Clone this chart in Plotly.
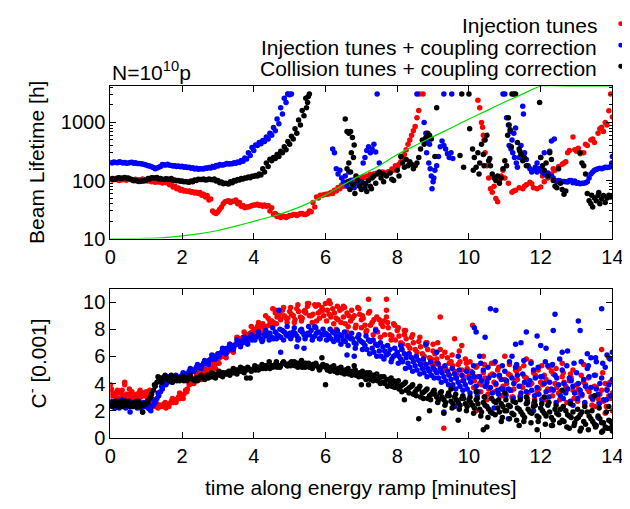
import plotly.graph_objects as go

# ---------------- time stamps (minutes) ----------------
t_a = [round(i * 0.1, 2) for i in range(141)]          # 0.0 .. 14.0
t_b = [round(0.05 + i * 0.1, 2) for i in range(140)]   # 0.05 .. 13.95
t_c = [round(0.03 + i * 0.1, 2) for i in range(140)]   # 0.03 .. 13.93

# ---------------- TOP PANEL: beam lifetime [h] ----------------
# Injection tunes (red), continuous part 0 .. 8.6 min
life_red_a = [105,108,103,106,104,107,102,105,103,106,100,
              100,97,96,95,94,93,90,80,74,70,
              67,66,64,63,62,58,55,48,28,29,
              35,43,45,44,46,42,37,35,36,38,
              39,38,38,37,34,27,25,24,23,25,
              26,25,27,26,27,29,35,50,55,58,
              59,60,66,72,80,87,95,99,108,105,
              112,118,125,132,137,140,135,138,150,170,
              210,280,420,600,850,1600]
life_red_b = [102,104,100,103,101,104,99,102,100,98,
              98,95,93,94,91,92,85,77,72,68,
              66,65,63,61,60,56,52,46,30,27,
              32,40,44,42,44,40,36,34,35,37,
              38,37,36,36,30,26,24,23,24,24,
              25,26,26,27,26,30,42,52,56,57,
              58,62,68,76,84,90,97,102,110,112,
              115,120,128,130,135,138,132,142,158,180,
              190,240,340,500,720,1200]
# Injection tunes (red), scattered part
life_red_sx = [8.62,8.72,10.25,10.3,10.35,10.38,10.4,10.42,10.45,10.5,10.55,10.6,10.65,10.7,10.75,10.8,
               10.85,10.9,10.95,11.0,11.1,11.2,11.3,11.4,11.5,11.6,11.7,11.8,11.9,12.0,12.1,12.2,
               12.3,12.4,12.5,12.6,12.7,12.75,12.8,12.9,12.95,13.0,13.1,13.2,13.3,13.4,13.5,13.6,
               13.7,13.75,13.8,13.85,13.9,13.95,14.0,11.25,11.55,11.75,12.05,12.35,12.65,13.05,13.25,13.45,13.65]
life_red_sy = [3100,3100,2400,1800,1000,830,600,500,300,180,110,72,63,80,49,43,
               100,120,150,110,90,63,68,75,72,85,93,75,72,77,95,110,
               130,150,175,190,210,300,330,560,340,320,290,300,400,500,450,650,
               830,700,1000,900,1590,3100,1240,66,80,88,120,160,200,360,420,520,780]

# Injection tunes + coupling correction (blue), continuous part 0 .. 5 min
life_blue_a = [205,208,203,206,204,200,207,202,196,192,185,
               178,168,165,175,185,190,182,180,178,176,
               172,170,166,162,160,158,162,165,170,178,
               185,190,192,195,198,205,215,235,270,330,
               400,430,470,520,600,720,950,1400,2200,3000]
life_blue_b = [200,204,210,201,198,205,199,197,194,188,
               180,172,160,170,188,186,184,178,175,172,
               170,168,163,158,156,160,164,168,174,182,
               188,186,196,194,202,208,222,245,300,370,
               410,450,490,560,650,820,1150,1800,2600,3100]
life_blue_sx = [4.95,5.02,5.05,6.2,6.25,6.3,6.35,6.4,6.45,6.5,6.55,6.6,6.65,6.7,6.75,6.8,6.85,6.9,6.95,7.0,
                7.05,7.1,7.15,7.2,7.25,7.3,7.35,7.4,7.44,7.5,8.55,8.75,8.8,8.85,8.9,8.82,8.88,8.92,8.95,
                9.0,8.97,9.02,9.05,9.1,9.15,9.2,9.25,9.3,9.35,9.4,9.45,9.5,9.55,9.3,9.52,10.95,11.0,
                11.05,11.1,11.15,11.2,11.25,11.3,11.12,11.17,11.22,11.27,11.32,11.35,11.4,11.45,11.5,11.52,
                11.55,11.6,11.65,11.7,11.75,11.8,11.85,11.9,11.95,12.0,12.05,12.1,12.15,12.2,12.25,12.3,
                12.35,12.4,12.45,12.5,12.6,12.7,12.8,12.9,13.0,13.1,13.2,13.3,13.4,13.5,13.6,13.7,13.8,
                13.9,14.0,13.98,12.0,12.1,12.3,12.38,11.9,12.55,12.65,12.75,12.85,12.95,13.05,13.15,
                13.25,13.35,13.45,13.55,13.65,13.75,13.85,13.95]
life_blue_sy = [3100,3050,3100,350,300,160,130,150,110,95,120,80,140,100,85,75,90,100,88,95,
                200,250,330,380,300,350,420,310,3100,200,3100,1000,650,480,420,300,200,160,120,
                95,72,110,150,180,260,380,480,400,350,290,250,300,240,3100,3100,3100,3100,
                1200,900,700,500,650,800,400,350,300,250,200,170,250,400,1900,1400,
                300,230,180,160,140,150,170,140,160,150,140,130,130,135,320,120,
                110,100,95,100,95,95,100,92,90,88,90,95,130,150,160,160,170,
                170,260,200,250,300,480,520,200,98,96,94,100,98,92,90,
                92,110,140,155,162,165,168,172,175]

# Collision tunes + coupling correction (black), continuous part 0 .. 5.5 min
life_black_a = [106,104,110,108,113,110,104,100,96,98,102,
                106,110,113,108,104,106,108,102,100,98,
                96,93,95,100,104,106,103,104,106,100,
                94,90,87,92,98,102,106,110,112,118,
                120,125,140,175,220,240,260,300,340,420,
                520,650,900,1300,2200]
life_black_b = [108,106,112,110,109,106,100,98,97,100,
                108,112,110,106,105,107,104,101,99,97,
                95,94,98,102,105,104,102,106,103,98,
                92,88,89,95,100,104,108,111,115,119,
                122,130,160,200,232,250,280,320,380,470,
                580,780,1100,1600,2600]
life_black_sx = [5.47,5.52,5.55,6.55,6.6,6.65,6.7,6.75,6.8,6.72,6.78,6.65,6.6,6.7,6.85,6.9,6.95,7.0,7.05,7.1,
                 7.15,7.2,7.25,7.3,7.35,7.4,7.45,7.5,7.55,7.6,7.7,7.8,7.9,8.0,8.05,8.1,8.15,8.2,8.25,
                 8.3,8.35,8.4,8.45,8.5,8.55,8.6,8.65,8.7,8.75,8.8,8.85,8.9,8.95,9.1,9.75,9.8,9.85,
                 10.0,10.02,10.1,10.15,10.2,10.25,10.3,10.35,10.4,10.45,10.5,10.55,10.6,10.65,10.7,10.75,
                 10.8,10.85,10.9,10.95,11.0,11.05,11.1,11.12,11.15,11.2,11.25,11.3,11.35,11.4,11.45,11.5,
                 11.55,11.6,11.97,12.0,12.05,12.1,12.15,12.2,12.25,12.3,12.35,12.4,12.45,12.5,12.55,12.6,
                 13.15,13.2,13.25,13.3,13.35,13.4,13.45,13.5,13.55,13.6,13.65,13.7,13.75,13.8,13.85,13.9,
                 13.95,14.0,13.42,13.62,6.62,6.68,6.76,6.82,7.12,7.28,7.62,7.85,9.05,10.12,10.28,10.42,
                 10.58,11.08,11.42,12.65,12.7,13.1,11.18]
life_black_sy = [1800,2800,3100,1150,700,650,700,550,410,300,250,200,160,140,120,100,80,70,90,75,
                 65,100,80,110,120,90,130,140,110,130,120,135,100,150,120,260,200,170,230,
                 180,210,190,160,180,200,250,350,500,420,550,650,600,520,1800,270,3100,170,
                 3100,780,350,250,170,300,200,420,280,500,600,220,180,130,110,100,
                 120,90,110,160,220,180,1200,900,750,3100,3100,3100,450,350,280,220,
                 250,180,2200,250,180,150,200,120,300,230,100,80,75,160,90,70,
                 200,180,130,60,45,40,35,50,45,55,40,48,55,42,50,56,
                 52,55,56,62,95,70,85,60,88,72,95,105,260,150,130,180,
                 240,600,320,58,66,300,380]

# Green reference curve
curve_t = [0,0.5,1,1.5,2,2.5,3,3.5,4,4.5,5,5.5,6,6.5,7,7.5,8,8.5,9,9.5,10,10.5,11,11.5,12,13,14]
curve_life = [10,10.0,10.1,10.4,11.1,12.2,13.8,16.4,19.8,24,30,40,56,85,125,180,280,400,570,800,
              1150,1600,2250,3100,4200,4200,4200]

# ---------------- BOTTOM PANEL: C- [0.001] ----------------
c_red_a = [3.4,3.2,3.5,3.3,3.9,3.2,3.4,3.1,3.3,3.2,3.4,
           3.5,2.8,2.5,2.4,2.5,2.4,2.7,2.8,3.0,3.1,
           3.5,3.9,4.3,4.6,4.7,4.9,5.0,5.2,5.4,5.8,
           6.0,6.3,6.4,6.8,6.9,7.3,7.4,7.6,7.7,8.0,
           8.2,8.3,8.1,8.8,8.6,9.2,8.9,9.4,8.8,9.3,
           9.0,9.5,8.9,9.3,9.7,9.0,9.8,9.2,9.6,9.9,
           9.1,9.5,8.8,9.4,8.9,9.2,8.6,9.0,9.6,8.7,
           8.3,9.2,8.5,8.0,8.7,8.2,8.9,7.6,8.4,7.9,
           7.0,7.6,6.8,7.4,6.5,7.1,6.2,6.8,5.9,6.4,
           5.8,6.5,5.2,5.9,5.6,4.9,5.4,5.0,5.8,4.6,
           4.4,5.2,4.0,4.8,3.8,4.6,4.1,5.0,3.6,4.3,
           4.7,3.5,4.2,5.1,3.7,4.4,3.9,4.8,3.4,4.1,
           4.6,3.6,4.9,4.0,3.3,4.5,3.8,4.2,3.5,3.9,
           3.2,4.1,3.6,3.0,3.8,2.9,3.5,4.0,3.1,3.3]
c_red_b = [3.1,3.0,3.3,3.1,3.2,3.0,2.9,3.2,3.0,3.1,
           3.2,2.6,2.3,2.3,2.4,2.2,2.5,2.6,2.8,2.9,
           3.2,3.6,4.0,4.3,4.5,4.6,4.8,5.0,5.2,5.5,
           5.9,6.0,6.3,6.5,6.7,7.0,7.2,7.3,7.5,7.8,
           7.9,8.1,8.4,8.2,8.6,8.5,8.9,8.7,9.0,8.8,
           9.1,8.7,9.3,8.8,9.2,9.0,9.1,8.6,9.3,9.0,
           9.4,8.9,9.2,8.7,9.5,8.4,9.0,8.8,8.3,9.1,
           8.8,7.9,8.3,8.7,7.8,8.4,7.6,8.1,7.5,7.2,
           7.5,6.9,7.3,6.6,7.0,6.3,6.7,6.0,6.5,5.8,
           6.2,5.4,6.0,5.1,5.5,5.3,4.7,5.6,4.5,5.1,
           4.9,4.2,4.5,3.9,4.4,3.6,4.7,3.9,4.5,3.8,
           4.0,4.6,3.6,4.3,3.8,4.5,3.3,4.0,4.6,3.6,
           3.9,4.3,3.5,4.7,3.7,3.4,4.1,3.6,4.4,3.3,
           3.6,3.1,3.9,3.4,2.8,3.7,3.2,2.7,3.6,2.9]
c_red_c = [3.6,3.3,2.9,3.5,3.0,3.6,3.2,2.9,3.5,3.3,
           3.0,3.3,2.6,2.2,2.3,2.6,2.3,2.9,2.6,3.3,
           2.9,3.4,4.2,4.0,4.9,4.3,5.1,4.7,5.6,5.1,
           5.5,6.4,5.9,6.9,6.3,7.4,6.9,7.8,7.1,8.2,
           7.6,8.5,7.8,9.0,8.3,9.5,8.4,9.2,9.6,8.5,
           9.6,8.5,9.8,8.6,9.4,9.9,8.5,9.7,8.8,9.4,
           8.6,9.9,8.4,9.7,8.5,9.6,8.2,9.4,8.1,9.5,
           9.0,7.8,9.3,7.6,8.9,7.4,8.6,8.5,7.2,8.3,
           8.1,6.5,7.9,6.2,7.6,5.9,7.4,5.6,7.0,5.5,
           5.5,7.0,4.9,6.3,4.7,6.1,4.4,6.4,4.2,5.5,
           5.6,3.7,5.3,3.4,5.4,3.2,5.5,3.4,5.2,3.1,
           3.2,5.4,3.0,4.9,3.1,5.3,2.9,5.6,2.8,5.0,
           5.3,2.8,5.2,3.1,5.1,2.8,4.8,2.6,4.7,2.9,
           2.7,4.6,2.5,4.4,2.4,4.6,2.6,4.8,2.3,4.1]
c_red_sx = [0.0,0.4,4.6,5.5,5.8,6.1,6.5,7.2,7.7,7.7,6.3,6.6,7.0,8.2,8.8,9.2,9.0,9.3,9.6,10.1,9.8,10.4,10.2,
            10.7,11.0,11.3,11.6,11.8,12.1,12.3,12.6,12.9,13.2,13.5,13.7,13.9,14.0,13.8,11.2,10.5]
c_red_sy = [3.9,4.1,9.4,9.9,9.8,10.1,9.7,10.2,10.2,9.4,8.0,7.8,8.1,7.9,7.0,8.9,6.9,0.7,7.3,8.3,6.8,6.0,2.0,
            5.5,6.0,5.0,5.8,2.5,2.9,5.3,5.5,5.0,5.4,2.3,6.5,5.9,2.0,1.8,3.0,2.8]

c_blue_a = [2.6,2.4,2.7,2.5,2.3,2.6,2.4,2.5,2.7,2.4,2.5,
            2.1,2.4,2.9,3.4,3.9,4.1,4.3,4.4,4.4,4.6,
            4.7,4.9,5.0,5.2,5.3,5.5,5.6,5.8,6.0,6.2,
            6.3,6.5,6.5,6.7,6.9,7.0,7.0,7.2,7.4,7.4,
            7.5,7.3,7.6,7.7,7.4,7.8,7.5,7.9,7.6,7.7,
            7.8,7.5,7.9,7.6,7.7,7.9,7.5,7.8,7.6,7.7,
            7.5,7.8,7.4,7.6,7.2,7.5,7.3,7.0,7.4,7.1,
            6.8,7.2,6.6,6.9,6.4,6.7,6.1,6.5,6.0,6.3,
            5.8,6.2,5.5,5.9,5.3,5.7,5.1,5.4,4.9,5.2,
            4.8,5.1,4.5,4.9,4.3,4.7,4.1,4.6,3.9,4.4,
            4.8,3.8,4.5,5.0,4.1,3.7,4.6,3.5,4.3,4.9,
            3.6,4.4,5.2,3.8,4.7,3.4,4.2,5.0,3.7,4.5,
            4.0,5.3,3.6,4.6,3.9,5.0,3.3,4.4,3.8,4.8,
            3.5,4.3,5.1,3.7,4.6,3.2,4.4,5.2,3.9,4.3]
c_blue_b = [2.3,2.5,2.2,2.4,2.6,2.3,2.5,2.2,2.4,2.3,
            2.2,2.3,2.6,3.1,3.6,3.9,4.2,4.2,4.3,4.5,
            4.6,4.7,4.9,5.0,5.2,5.3,5.5,5.7,5.8,6.0,
            6.2,6.3,6.6,6.6,6.8,6.9,7.1,7.1,7.3,7.2,
            7.4,7.6,7.2,7.5,7.7,7.3,7.6,7.4,7.8,7.5,
            7.5,7.7,7.3,7.8,7.5,7.6,7.4,7.7,7.3,7.6,
            7.6,7.3,7.7,7.2,7.5,7.1,7.4,7.3,6.9,7.2,
            7.0,6.5,7.1,6.3,6.8,6.0,6.4,6.2,5.8,6.1,
            6.0,5.6,5.9,5.2,5.6,5.0,5.4,4.8,5.1,4.6,
            5.0,4.4,4.8,4.2,4.6,3.9,4.4,3.8,4.2,3.6,
            4.1,4.5,3.4,4.2,3.8,4.4,3.3,4.0,4.6,3.6,
            4.2,3.5,4.0,4.6,3.3,4.1,3.9,3.5,4.4,3.2,
            4.5,3.4,4.1,3.5,4.4,3.1,4.0,3.6,4.2,3.3,
            4.0,3.2,3.8,4.5,2.9,3.6,4.0,2.8,3.5,3.1]
c_blue_c = [2.7,2.2,2.6,2.8,2.2,2.7,2.3,2.6,2.2,2.6,
            2.4,2.0,2.7,3.3,3.8,4.0,4.5,4.1,4.6,4.4,
            4.8,4.6,5.1,4.9,5.4,5.1,5.7,5.4,6.1,5.8,
            6.0,6.6,6.2,6.9,6.5,7.2,6.7,7.4,6.9,7.6,
            7.2,7.8,7.1,7.9,7.2,8.1,7.3,8.0,7.2,8.2,
            7.3,8.1,7.2,8.0,7.3,8.2,7.2,8.1,7.3,8.0,
            7.2,8.0,7.1,7.9,6.9,7.8,6.8,7.7,6.6,7.6,
            6.5,7.5,6.2,7.2,6.0,7.0,5.8,6.8,5.6,6.6,
            5.5,6.5,5.1,6.2,4.9,6.0,4.7,5.8,4.5,5.6,
            4.4,5.5,4.1,5.3,3.9,5.1,3.6,5.0,3.5,4.9,
            3.3,5.3,3.1,5.5,3.0,5.2,2.9,5.6,3.2,5.3,
            3.1,5.6,2.9,5.4,3.0,5.7,2.7,5.5,3.1,5.2,
            2.8,5.6,3.0,5.4,2.6,5.8,2.9,5.3,2.7,5.5,
            2.9,5.6,2.6,5.3,3.0,5.9,2.5,5.5,2.8,5.8]
c_blue_sx = [0.55,4.7,4.75,5.2,5.4,5.7,6.6,6.8,7.4,7.7,8.1,8.8,9.3,9.1,9.7,10.15,10.2,10.45,10.3,10.6,10.75,
             10.9,11.2,11.3,11.45,11.6,11.8,11.9,12.0,12.15,12.35,12.4,12.6,12.75,13.05,13.1,13.3,13.4,13.55,
             13.7,13.85,14.0,12.9,13.6,10.7,9.6,11.1]
c_blue_sy = [1.9,9.4,6.3,6.7,6.6,8.2,6.1,6.0,7.9,6.2,6.8,6.9,1.9,6.3,6.0,8.1,7.8,7.4,6.0,9.5,9.4,
             3.6,6.0,6.9,7.0,7.8,2.0,7.5,6.8,6.6,7.9,9.1,6.3,6.4,8.6,7.9,6.2,5.9,5.6,
             9.5,6.1,6.3,2.4,1.5,2.2,2.3,1.4]

c_black_a = [2.6,2.5,2.4,2.7,2.5,2.6,2.4,2.5,2.6,1.9,2.5,
             2.9,3.5,4.1,4.4,4.5,4.3,4.6,4.3,4.4,4.3,
             4.4,4.5,4.3,4.4,4.5,4.4,4.6,4.5,4.7,4.7,
             4.8,4.7,4.9,4.8,5.0,4.9,5.1,5.0,4.4,5.1,
             5.2,5.1,5.3,5.2,5.3,5.4,5.3,5.5,5.4,5.5,
             5.4,5.5,5.3,5.5,5.4,5.3,5.4,5.2,5.3,5.2,
             5.1,5.2,5.0,5.1,4.9,5.0,4.8,4.9,4.7,4.6,
             4.7,4.5,4.6,4.3,4.4,4.1,4.3,4.0,4.2,3.9,
             3.8,4.0,3.6,3.8,3.4,3.6,3.3,3.5,3.1,3.4,
             3.0,3.3,2.8,3.1,2.7,3.0,2.6,2.9,2.5,2.8,
             2.4,2.8,2.1,2.6,2.3,1.9,2.7,2.2,2.5,2.0,
             2.4,1.8,2.6,2.1,1.7,2.5,1.9,2.3,1.6,2.2,
             1.8,2.4,1.5,2.1,1.7,1.3,2.0,1.6,1.9,1.4,
             1.7,1.2,1.9,1.4,1.0,1.6,1.1,0.8,1.3,1.0]
c_black_b = [2.3,2.4,2.6,2.3,2.4,2.3,2.6,2.3,2.4,2.5,
             2.6,3.2,3.8,4.2,4.3,4.4,4.2,4.4,4.2,4.4,
             4.2,4.3,4.4,4.2,4.3,4.5,4.4,4.6,4.5,4.6,
             4.6,4.8,4.7,4.9,4.8,5.0,4.9,5.0,5.1,5.0,
             5.0,5.2,5.1,5.3,5.1,5.3,5.2,5.3,5.5,5.3,
             5.6,5.3,5.5,5.2,5.5,5.2,5.4,5.3,5.1,5.3,
             5.0,5.2,4.9,5.1,4.8,5.0,4.7,4.9,4.6,4.8,
             4.5,4.8,4.3,4.6,4.2,4.5,4.0,4.3,3.8,4.1,
             3.6,3.9,3.5,3.7,3.2,3.6,3.0,3.4,2.9,3.2,
             3.2,2.8,3.0,2.6,3.1,2.5,2.8,2.4,2.9,2.3,
             2.6,2.2,2.5,1.9,2.4,2.1,1.8,2.6,1.9,2.3,
             2.0,2.3,1.7,2.2,1.9,1.5,2.1,1.8,2.4,1.5,
             2.0,1.6,1.9,1.3,1.8,2.1,1.2,1.7,1.5,1.1,
             1.5,1.9,1.0,1.6,1.2,0.9,1.4,1.1,0.7,1.2]
c_black_c = [2.4,2.7,2.3,2.5,2.7,2.4,2.3,2.7,2.3,2.4,
             2.7,3.0,3.9,4.5,4.1,4.6,4.4,4.1,4.5,4.2,
             4.5,4.2,4.6,4.3,4.2,4.6,4.3,4.4,4.8,4.4,
             4.9,4.5,4.8,4.6,5.1,4.7,5.2,4.8,5.2,4.9,
             5.3,5.0,5.4,5.1,5.6,5.2,5.6,5.2,5.6,5.3,
             5.3,5.6,5.2,5.7,5.2,5.5,5.1,5.5,5.0,5.4,
             5.3,4.9,5.3,4.8,5.2,4.7,5.1,4.6,5.0,4.5,
             4.9,4.3,4.8,4.2,4.7,4.0,4.5,3.8,4.4,3.7,
             4.2,3.4,4.1,3.3,3.9,3.1,3.8,2.9,3.6,2.8,
             3.5,2.6,3.4,2.4,3.3,2.2,3.2,2.1,3.1,2.0,
             3.0,1.8,2.9,1.6,3.0,1.5,2.9,1.7,2.8,1.5,
             2.8,1.4,2.7,1.3,2.8,1.2,2.6,1.1,2.7,1.2,
             2.5,1.0,2.6,0.9,2.4,1.1,2.3,0.8,2.5,0.9,
             2.1,0.7,2.3,0.6,2.0,0.8,2.2,0.5,1.9,0.7]
c_black_sx = [0.9,3.8,5.9,6.0,6.8,7.0,7.2,8.2,8.6,8.9,9.3,9.7,10.4,10.5,10.9,11.4,11.9,12.3,12.6,12.8,13.1,
              13.5,13.7,13.9,14.0,11.0,11.6,12.1,10.2,9.5]
c_black_sy = [1.9,4.4,5.9,3.9,5.3,3.9,3.9,2.8,1.4,2.0,1.8,1.3,0.6,0.8,1.2,0.9,0.6,0.9,3.5,0.7,0.5,
              3.1,0.4,2.3,0.5,3.3,3.0,3.0,3.4,3.6]

RED, BLUE, BLACK, GREEN = "#ff0000", "#0000ff", "#000000", "#00dd00"
FONT = "Liberation Sans"
MS = 5.5

fig = go.Figure()

def dots(x, y, color, xa, ya):
    fig.add_trace(go.Scatter(x=x, y=y, mode="markers", xaxis=xa, yaxis=ya,
                             marker=dict(color=color, size=MS, line=dict(width=0)),
                             showlegend=False, hoverinfo="skip"))

# top panel
dots(t_a[:len(life_red_a)], life_red_a, RED, "x", "y")
dots(t_b[:len(life_red_b)], life_red_b, RED, "x", "y")
dots(life_red_sx, life_red_sy, RED, "x", "y")
dots(t_a[:len(life_blue_a)], life_blue_a, BLUE, "x", "y")
dots(t_b[:len(life_blue_b)], life_blue_b, BLUE, "x", "y")
dots(life_blue_sx, life_blue_sy, BLUE, "x", "y")
dots(t_a[:len(life_black_a)], life_black_a, BLACK, "x", "y")
dots(t_b[:len(life_black_b)], life_black_b, BLACK, "x", "y")
dots(life_black_sx, life_black_sy, BLACK, "x", "y")
fig.add_trace(go.Scatter(x=curve_t, y=curve_life, mode="lines", xaxis="x", yaxis="y",
                         line=dict(color=GREEN, width=1.2, shape="spline", smoothing=0.6),
                         showlegend=False, hoverinfo="skip"))

# bottom panel
dots(t_a, c_red_a, RED, "x2", "y2")
dots(t_b, c_red_b, RED, "x2", "y2")
dots(t_c, c_red_c, RED, "x2", "y2")
dots(c_red_sx, c_red_sy, RED, "x2", "y2")
dots(t_a, c_blue_a, BLUE, "x2", "y2")
dots(t_b, c_blue_b, BLUE, "x2", "y2")
dots(t_c, c_blue_c, BLUE, "x2", "y2")
dots(c_blue_sx, c_blue_sy, BLUE, "x2", "y2")
dots(t_a, c_black_a, BLACK, "x2", "y2")
dots(t_b, c_black_b, BLACK, "x2", "y2")
dots(t_c, c_black_c, BLACK, "x2", "y2")
dots(c_black_sx, c_black_sy, BLACK, "x2", "y2")

W, H = 630, 509
xdom = [99 / W, 615 / W]
top_dom = [1 - 235.7 / H, 1 - 80 / H]
bot_dom = [1 - 439.3 / H, 1 - 286.7 / H]

axis_common = dict(showline=True, mirror="ticks", linecolor="black", linewidth=1,
                   ticks="inside", ticklen=6, tickcolor="black", tickwidth=1,
                   showgrid=False, zeroline=False,
                   tickfont=dict(family=FONT, size=20, color="black"))

fig.update_layout(
    width=W, height=H, margin=dict(l=0, r=0, t=0, b=0),
    paper_bgcolor="white", plot_bgcolor="white", showlegend=False,
    xaxis=dict(domain=xdom, anchor="y", range=[0, 14], tick0=0, dtick=2, **axis_common),
    yaxis=dict(domain=top_dom, anchor="x", type="log", range=[1, 3.623],
               tickvals=[10, 100, 1000], ticktext=["10", "100", "1000"],
               minor=dict(ticks="inside", ticklen=3, tickcolor="black", dtick="D1", showgrid=False),
               **axis_common),
    xaxis2=dict(domain=xdom, anchor="y2", range=[0, 14], tick0=0, dtick=2, **axis_common),
    yaxis2=dict(domain=bot_dom, anchor="x2", range=[0, 11], tick0=0, dtick=2, **axis_common),
)

ann = []
def text(x, y, s, size=21, xanchor="center", yanchor="middle", angle=0):
    ann.append(dict(x=x / W, y=1 - y / H, xref="paper", yref="paper", text=s, showarrow=False,
                    xanchor=xanchor, yanchor=yanchor, textangle=angle,
                    font=dict(family=FONT, size=size, color="black")))

legend_rows = [("Injection tunes", RED, 18),
               ("Injection tunes + coupling correction", BLUE, 40),
               ("Collision tunes + coupling correction", BLACK, 61.5)]
shapes = []
for label, col, yy in legend_rows:
    text(601, yy, label, xanchor="right")
    shapes.append(dict(type="circle", xref="paper", yref="paper",
                       x0=(623.5 - 2.5) / W, x1=(623.5 + 2.5) / W,
                       y0=1 - (yy - 2 + 2.5) / H, y1=1 - (yy - 2 - 2.5) / H,
                       fillcolor=col, line=dict(width=0)))

text(99, 64, "N=10<sup>10</sup>p", xanchor="left")
text(23, 158, "Beam Lifetime [h]", angle=-90)
text(24, 363, "C<sup>-</sup> [0.001]", angle=-90)
text(357, 490, "time along energy ramp [minutes]")

fig.update_layout(annotations=ann, shapes=shapes)
fig.write_html("out.html")
